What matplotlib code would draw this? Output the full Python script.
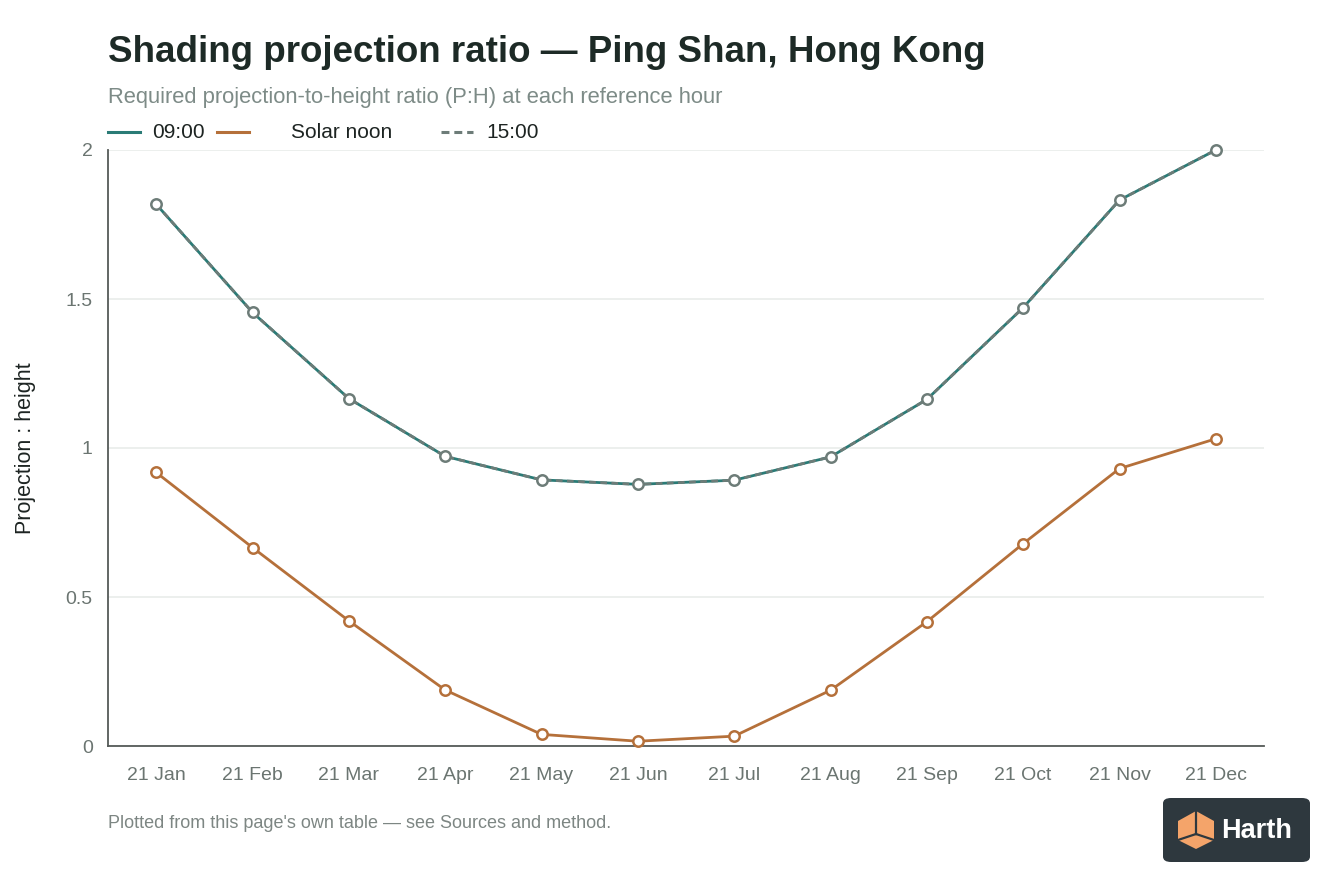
import numpy as np
import matplotlib.pyplot as plt
from matplotlib.patches import FancyBboxPatch, Polygon

plt.rcParams['font.family'] = ['Liberation Sans', 'DejaVu Sans']

# data
months = ['21 Jan', '21 Feb', '21 Mar', '21 Apr', '21 May', '21 Jun',
          '21 Jul', '21 Aug', '21 Sep', '21 Oct', '21 Nov', '21 Dec']
ratio_0900 = [1.818, 1.455, 1.166, 0.972, 0.893, 0.878, 0.892, 0.970, 1.163, 1.471, 1.832, 2.0]
ratio_noon = [0.918, 0.666, 0.420, 0.188, 0.039, 0.016, 0.033, 0.187, 0.417, 0.679, 0.931, 1.031]
ratio_1500 = [1.818, 1.455, 1.166, 0.972, 0.893, 0.878, 0.892, 0.970, 1.163, 1.471, 1.832, 2.0]
yticks = [0, 0.5, 1, 1.5, 2]
ytick_labels = ['0', '0.5', '1', '1.5', '2']

teal = '#2a7b76'
orange = '#b5703a'
grey = '#6d7c78'
tick_col = '#6b7571'
dash = (0, (2.4, 1.6))

fig = plt.figure(figsize=(13.44, 8.96), dpi=100)
ax = fig.add_axes([108/1344, 1-746/896, (1264-108)/1344, (746-150)/896])

x = np.arange(len(months))
ax.plot(x, ratio_0900, color=teal, lw=2.0, zorder=3, clip_on=False)
ax.plot(x, ratio_noon, color=orange, lw=2.0, marker='o', ms=7.5,
        mfc='white', mec=orange, mew=1.8, zorder=4, clip_on=False)
ax.plot(x, ratio_1500, color=grey, lw=2.0, ls=dash, marker='o', ms=7.5,
        mfc='white', mec=grey, mew=1.8, zorder=5, clip_on=False)

ax.set_xlim(-0.5, 11.5)
ax.set_ylim(0, 2)
ax.set_xticks(x)
ax.set_xticklabels(months)
ax.set_yticks(yticks)
ax.set_yticklabels(ytick_labels)
ax.tick_params(length=0, labelsize=14, colors=tick_col)
ax.tick_params(axis='y', pad=11)
ax.tick_params(axis='x', pad=15)
ax.grid(axis='y', color='#e9ecea', lw=1.2)
ax.set_axisbelow(True)
for s in ['top', 'right']:
    ax.spines[s].set_visible(False)
for s in ['left', 'bottom']:
    ax.spines[s].set_color('#555a58')
    ax.spines[s].set_linewidth(1.3)
ax.set_ylabel('Projection : height', fontsize=15.5, color='#1d2422', labelpad=21)

# header
fig.text(108/1344, 1-52/896, 'Shading projection ratio \u2014 Ping Shan, Hong Kong',
         fontsize=26.5, fontweight='bold', color='#1d2a26', va='center')
fig.text(108/1344, 1-97/896, 'Required projection-to-height ratio (P:H) at each reference hour',
         fontsize=15.8, color='#7d8b87', va='center')

# legend
leg_y = 1-132/896
items = [(108, 152, teal, '-', '09:00'), (217, 291, orange, '-', 'Solar noon'),
         (441, 486, grey, (0, (2.6, 1.6)), '15:00')]
for x0, tx, c, ls, lab in items:
    fig.add_artist(plt.Line2D([x0/1344, (x0+32)/1344], [leg_y, leg_y], color=c, lw=2.2, ls=ls))
    fig.text(tx/1344, leg_y, lab, fontsize=15, color='#1d2422', va='center')

# footnote
fig.text(108/1344, 1-823/896, "Plotted from this page's own table \u2014 see Sources and method.",
         fontsize=13, color='#7d8683', va='center')

# logo badge
badge = FancyBboxPatch((1163/1344, 1-862/896), 147/1344, 64/896,
                       boxstyle='round,pad=0,rounding_size=0.006',
                       transform=fig.transFigure, fc='#2e383e', ec='none')
fig.add_artist(badge)
cx, cy = 1196, 830
cube = [(cx-18, cy-9), (cx, cy-19), (cx+18, cy-9), (cx+18, cy+10), (cx, cy+19), (cx-18, cy+10)]
fig.add_artist(Polygon([(px/1344, 1-py/896) for px, py in cube], closed=True,
                       transform=fig.transFigure, fc='#f4a46a', ec='none'))
for (ax0, ay0), (ax1, ay1) in [((cx, cy-19), (cx, cy+4)), ((cx, cy+4), (cx-18, cy+10)),
                               ((cx, cy+4), (cx+18, cy+10))]:
    fig.add_artist(plt.Line2D([ax0/1344, ax1/1344], [1-ay0/896, 1-ay1/896],
                              color='#2e383e', lw=1.6))
fig.text(1221/1344, 1-831/896, 'Harth', fontsize=19.5, fontweight='bold', color='white', va='center')

fig.savefig('out.png', dpi=100, facecolor='white')
